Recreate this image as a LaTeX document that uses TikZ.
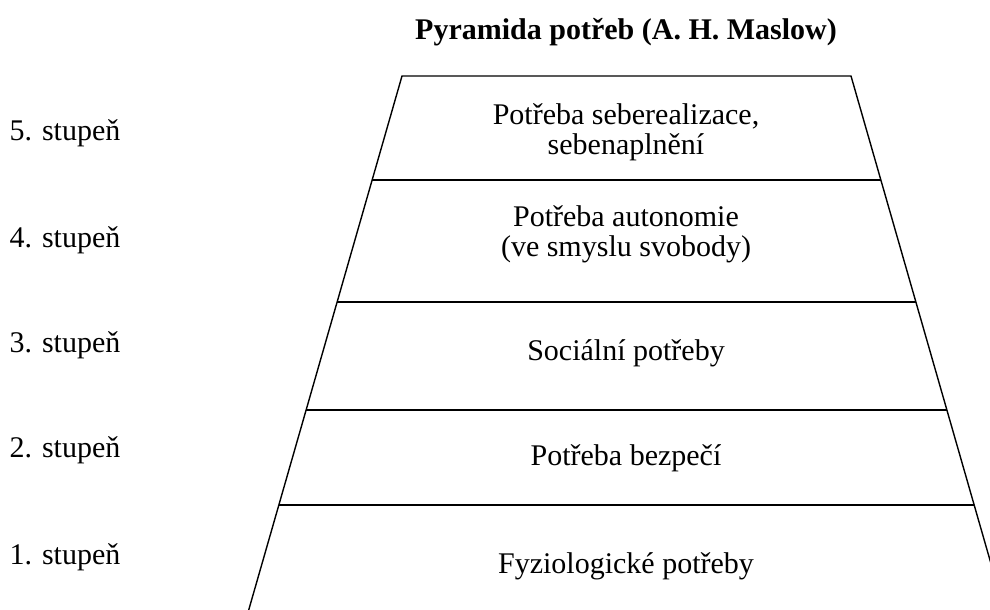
\documentclass[tikz,border=0pt]{standalone}
\usepackage{fontspec}
\setmainfont{Liberation Serif}
\begin{document}
\begin{tikzpicture}[x=1pt,y=-1pt,font=\fontsize{30}{30}\selectfont,
  level/.style={align=center},
  stage/.style={anchor=west}]
\useasboundingbox (0,0) rectangle (990,610);
\clip (0,0) rectangle (990,610);
\coordinate (tl) at (402,76);
\coordinate (tr) at (851,76);
\coordinate (bl) at (248.7,610);
\coordinate (br) at (1004.3,610);
\coordinate (l4) at (372.2,180);
\coordinate (r4) at (880.8,180);
\coordinate (l3) at (337.1,302);
\coordinate (r3) at (915.9,302);
\coordinate (l2) at (306.1,410);
\coordinate (r2) at (946.9,410);
\coordinate (l1) at (278.9,505);
\coordinate (r1) at (974.1,505);
\draw[line width=1.4pt] (bl) -- (tl) -- (tr) -- (br);
\draw[line width=1.4pt] (l4) -- (r4);
\draw[line width=1.4pt] (l3) -- (r3);
\draw[line width=1.4pt] (l2) -- (r2);
\draw[line width=1.4pt] (l1) -- (r1);
\node[font=\fontsize{30}{30}\selectfont\bfseries] (title) at (626,32) {Pyramida potřeb (A. H. Maslow)};
\node[level] (need5) at (626,132) {Potřeba seberealizace,\\sebenaplnění};
\node[level] (need4) at (626,234) {Potřeba autonomie\\(ve smyslu svobody)};
\node[level] (need3) at (626,353) {Sociální potřeby};
\node[level] (need2) at (626,458) {Potřeba bezpečí};
\node[level] (need1) at (626,566) {Fyziologické potřeby};
\node[stage] (st5) at (6,133) {5. stupeň};
\node[stage] (st4) at (6,240) {4. stupeň};
\node[stage] (st3) at (6,345) {3. stupeň};
\node[stage] (st2) at (6,450) {2. stupeň};
\node[stage] (st1) at (6,557) {1. stupeň};
\end{tikzpicture}
\end{document}
